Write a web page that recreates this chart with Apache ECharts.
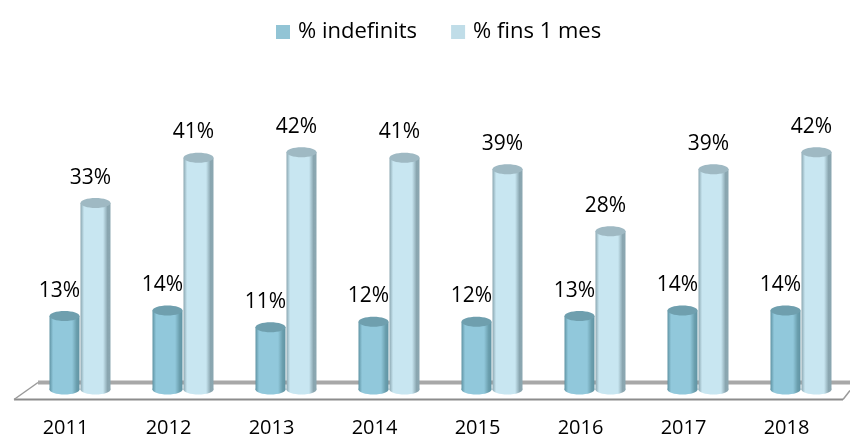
<!DOCTYPE html>
<html><head><meta charset="utf-8">
<script src="https://cdn.jsdelivr.net/npm/echarts@6/dist/echarts.min.js"></script>
<style>html,body{margin:0;padding:0;background:#fff}#c{width:850px;height:441px}</style>
</head><body><div id="c"></div>
<script>
const years = ['2011','2012','2013','2014','2015','2016','2017','2018'];
const indefinits = [13,14,11,12,12,13,14,14];
const fins1mes = [33,41,42,41,39,28,39,42];
const seriesNames = ['% indefinits','% fins 1 mes'];

const FONT = '"Open Sans"';
const styles = [
  {offset:-1, edgeL:'#5f93a3', body:'#91c8db', edgeR:'#6b9fae', top:'#6f9fae', legend:'#92c4d5'},
  {offset:30, edgeL:'#8ba7b1', body:'#c8e6f1', edgeR:'#8aa6b0', top:'#9fb9c3', legend:'#c0dde8'}
];

function cyl(si){
  const st = styles[si];
  return function(params, api){
    const cat = api.value(0), v = api.value(1);
    const base = api.coord([cat, 0]);
    const top = api.coord([cat, v]);
    const cx = base[0] + st.offset, w = 30, rx = 15, ry = 5;
    const grad = new echarts.graphic.LinearGradient(0,0,1,0,[
      {offset:0, color:st.edgeL},{offset:0.12, color:st.body},{offset:0.45, color:st.body},
      {offset:0.75, color:st.body},{offset:0.9, color:st.edgeR},{offset:1, color:st.edgeL}]);
    return {type:'group', children:[
      {type:'ellipse', shape:{cx:cx, cy:base[1], rx:rx, ry:ry}, style:{fill:grad}},
      {type:'rect', shape:{x:cx-w/2, y:top[1], width:w, height:base[1]-top[1]}, style:{fill:grad}},
      {type:'ellipse', shape:{cx:cx, cy:top[1], rx:rx, ry:ry}, style:{fill:st.top}},
      {type:'text', x:cx-5, y:top[1]-15, style:{text:v+'%', fill:'#000', font:'21px '+FONT, align:'center', verticalAlign:'bottom'}}
    ]};
  };
}

function floor(params, api){
  const cs = params.coordSys;
  const base = api.coord([0,0]);
  const fy = base[1] + 10, by = base[1] - 7;
  const x0 = cs.x, x1 = cs.x + cs.width + 5;
  return {type:'group', children:[
    {type:'line', shape:{x1:x0+24, y1:by, x2:850, y2:by}, style:{stroke:'#a8a8a8', lineWidth:4}},
    {type:'line', shape:{x1:x0, y1:fy, x2:x1, y2:fy}, style:{stroke:'#8c8c8c', lineWidth:2}},
    {type:'line', shape:{x1:x0, y1:fy, x2:x0+24, y2:by}, style:{stroke:'#9a9a9a', lineWidth:1.5}},
    {type:'line', shape:{x1:x1, y1:fy, x2:850, y2:fy-9}, style:{stroke:'#9a9a9a', lineWidth:1.5}}
  ]};
}

const chart = echarts.init(document.getElementById('c'), null, {renderer:'canvas'});
chart.setOption({
  animation:false,
  legend:{
    top:16, left:271, itemWidth:14, itemHeight:14, itemGap:34, icon:'rect',
    textStyle:{fontFamily:'Open Sans', fontSize:22, color:'#000', padding:[0,0,0,3]},
    data:[{name:seriesNames[0], itemStyle:{color:styles[0].legend}},{name:seriesNames[1], itemStyle:{color:styles[1].legend}}]
  },
  grid:{left:14, right:12, top:107, bottom:51.5},
  xAxis:{type:'category', data:years, axisLine:{show:false}, axisTick:{show:false},
    axisLabel:{margin:29, fontFamily:'Open Sans', fontSize:20, color:'#000'}},
  yAxis:{type:'value', min:0, max:50, show:false, splitLine:{show:false}},
  series:[
    {type:'custom', name:'floor', renderItem:floor, data:[[0,0]], z:1, silent:true},
    {type:'custom', name:seriesNames[0], renderItem:cyl(0), itemStyle:{color:styles[0].legend}, data:indefinits.map((v,i)=>[i,v]), z:2},
    {type:'custom', name:seriesNames[1], renderItem:cyl(1), itemStyle:{color:styles[1].legend}, data:fins1mes.map((v,i)=>[i,v]), z:3}
  ]
});
</script></body></html>
